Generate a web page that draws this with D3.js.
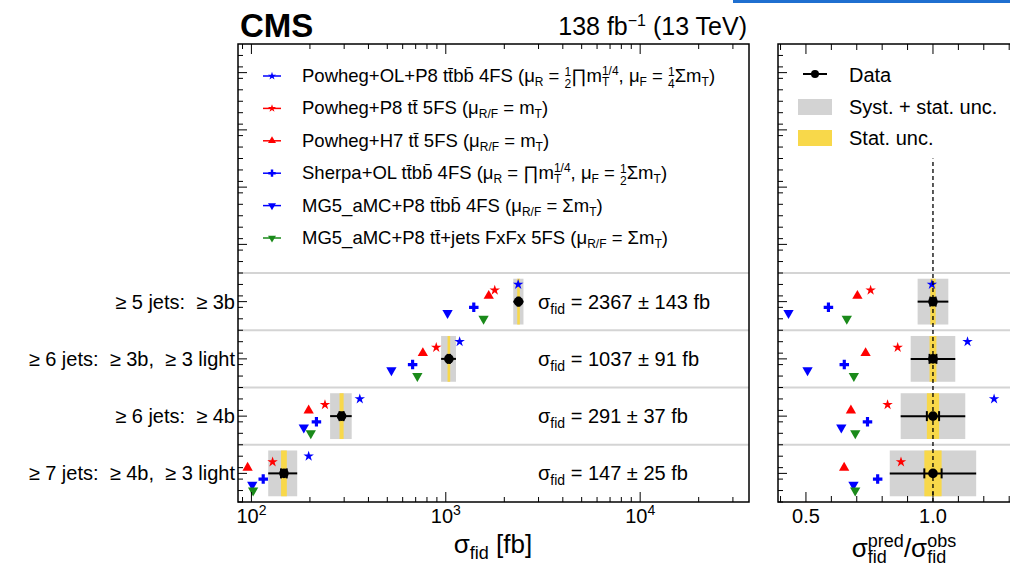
<!DOCTYPE html>
<html>
<head>
<meta charset="utf-8">
<script src="https://cdn.jsdelivr.net/npm/d3@7"></script>
<style>
body { margin: 0; background: #fff; }
text { font-family: "Liberation Sans", Arial, Helvetica, sans-serif; fill: #000; white-space: pre; }
</style>
</head>
<body>
<div id="chart"></div>
<script>
(() => {

// categories, top to bottom
const categories = ["≥ 5 jets:  ≥ 3b", "≥ 6 jets:  ≥ 3b,  ≥ 3 light", "≥ 6 jets:  ≥ 4b", "≥ 7 jets:  ≥ 4b,  ≥ 3 light"];

// measured fiducial cross sections [fb]
const obs = [2367, 1037, 291, 147];
const totUnc = [143, 91, 37, 25];
const statUnc = [25, 14, 7, 5];

// predictions [fb]
const powhegOL = [2357, 1178, 361, 197];
const powhegP8 = [1786, 893, 239, 128.5];
const powhegH7 = [1663, 762, 197, 95.6];
const sherpaOL = [1393, 675, 216, 115];
const mg5ttbb = [1021, 525, 186, 101];
const mg5fxfx = [1564, 714, 202, 102];

// axis ticks
const leftTickExp = [2, 3, 4];
const ratioTickLabels = ["0.5", "1.0"];

// little helpers for the ROOT-ish latex
const sub = (s, fs = 12, sh = -4) => `<tspan font-size="${fs}" baseline-shift="${sh}">${s}</tspan>`;
const frac = (a, b) => `<tspan font-size="12" baseline-shift="6">${a}</tspan><tspan font-size="12" dx="-6.7" baseline-shift="-6">${b}</tspan>`;
const mT14 = `m<tspan font-size="12" baseline-shift="-4">T</tspan><tspan font-size="12" dx="-7.3" baseline-shift="7">1/4</tspan>`;
const tt = "tt\u0304", ttbb = "tt\u0304bb\u0304";

const models = [
  { vals: powhegOL, color: "#0000ff", shape: "star", off: 0.3,
    label: `Powheg+OL+P8 ${ttbb} 4FS (μ${sub("R")} = ${frac(1, 2)}∏${mT14}, μ${sub("F")} = ${frac(1, 4)}Σm${sub("T")})` },
  { vals: powhegP8, color: "#ff0000", shape: "star", off: 0.2,
    label: `Powheg+P8 ${tt} 5FS (μ${sub("R/F")} = m${sub("T")})` },
  { vals: powhegH7, color: "#ff0000", shape: "up", off: 0.1,
    label: `Powheg+H7 ${tt} 5FS (μ${sub("R/F")} = m${sub("T")})` },
  { vals: sherpaOL, color: "#0000ff", shape: "cross", off: -0.1,
    label: `Sherpa+OL ${ttbb} 4FS (μ${sub("R")} = ∏${mT14}, μ${sub("F")} = ${frac(1, 2)}Σm${sub("T")})` },
  { vals: mg5ttbb, color: "#0000ff", shape: "down", off: -0.2,
    label: `MG5_aMC+P8 ${ttbb} 4FS (μ${sub("R/F")} = Σm${sub("T")})` },
  { vals: mg5fxfx, color: "#1a8a1a", shape: "down", off: -0.3,
    label: `MG5_aMC+P8 ${tt}+jets FxFx 5FS (μ${sub("R/F")} = Σm${sub("T")})` }
];

const W = 1010, H = 566;
const svg = d3.select("#chart").append("svg").attr("width", W).attr("height", H);

// stray link underline visible in the screenshot
svg.append("rect").attr("x", 733).attr("y", 0).attr("width", 277).attr("height", 3).attr("fill", "#1f6fd0");

const top = 44, bottom = 502;
const L = { x0: 238, x1: 749 }, R = { x0: 778, x1: 1060 };

const x = d3.scaleLog().domain([85.3, 36300]).range([L.x0, L.x1]);
const xr = d3.scaleLinear().domain([0.39, 1.5]).range([R.x0, R.x1]);
const y = d3.scaleLinear().domain([0, 8]).range([bottom, top]);
const catY = i => 3.5 - i;

const symPath = (shape, k = 1) => {
  const t = { star: [d3.symbolStar, 34], up: [d3.symbolTriangle, 46], down: [d3.symbolTriangle, 46], cross: [d3.symbolCross, 50] }[shape];
  return d3.symbol().type(t[0]).size(t[1] * k)();
};
const rot = shape => shape === "down" ? " rotate(180)" : "";

// separators between categories
[1, 2, 3, 4].forEach(v => {
  [L, R].forEach(p => svg.append("line")
    .attr("x1", p.x0).attr("x2", p.x1).attr("y1", y(v)).attr("y2", y(v))
    .attr("stroke", "#d4d4d4").attr("stroke-width", 2));
});

// uncertainty boxes
function panel(g, sx, cx, lo, hi, sLo, sHi) {
  categories.forEach((c, i) => {
    const yc = catY(i);
    g.append("rect").attr("x", sx(lo(i))).attr("width", sx(hi(i)) - sx(lo(i)))
      .attr("y", y(yc + 0.4)).attr("height", y(yc - 0.4) - y(yc + 0.4)).attr("fill", "#d3d3d3");
    const w = Math.max(2.6, sx(sHi(i)) - sx(sLo(i)));
    g.append("rect").attr("x", sx(cx(i)) - w / 2).attr("width", w)
      .attr("y", y(yc + 0.4)).attr("height", y(yc - 0.4) - y(yc + 0.4)).attr("fill", "#f8d84a");
  });
}
const gl = svg.append("g"), gr = svg.append("g");
panel(gl, x, i => obs[i], i => obs[i] - totUnc[i], i => obs[i] + totUnc[i], i => obs[i] - statUnc[i], i => obs[i] + statUnc[i]);
panel(gr, xr, i => 1, i => 1 - totUnc[i] / obs[i], i => 1 + totUnc[i] / obs[i], i => 1 - statUnc[i] / obs[i], i => 1 + statUnc[i] / obs[i]);

// dashed unity line
svg.append("line").attr("x1", xr(1)).attr("x2", xr(1)).attr("y1", y(0)).attr("y2", y(6))
  .attr("stroke", "#000").attr("stroke-width", 1.3).attr("stroke-dasharray", "4,3");

// data points with error bars
function dataPts(g, sx, cx, lo, hi, sLo, sHi) {
  categories.forEach((c, i) => {
    const yy = y(catY(i));
    g.append("line").attr("x1", sx(lo(i))).attr("x2", sx(hi(i))).attr("y1", yy).attr("y2", yy)
      .attr("stroke", "#000").attr("stroke-width", 2);
    [sLo(i), sHi(i)].forEach(v => g.append("line").attr("x1", sx(v)).attr("x2", sx(v))
      .attr("y1", yy - 5).attr("y2", yy + 5).attr("stroke", "#000").attr("stroke-width", 2));
    g.append("circle").attr("cx", sx(cx(i))).attr("cy", yy).attr("r", 4.8).attr("fill", "#000");
  });
}
dataPts(gl, x, i => obs[i], i => obs[i] - totUnc[i], i => obs[i] + totUnc[i], i => obs[i] - statUnc[i], i => obs[i] + statUnc[i]);
dataPts(gr, xr, i => 1, i => 1 - totUnc[i] / obs[i], i => 1 + totUnc[i] / obs[i], i => 1 - statUnc[i] / obs[i], i => 1 + statUnc[i] / obs[i]);

// predictions
models.forEach(m => {
  m.vals.forEach((v, i) => {
    const yy = y(catY(i) + m.off);
    gl.append("path").attr("d", symPath(m.shape)).attr("fill", m.color)
      .attr("transform", `translate(${x(v)},${yy})${rot(m.shape)}`);
    gr.append("path").attr("d", symPath(m.shape)).attr("fill", m.color)
      .attr("transform", `translate(${xr(v / obs[i])},${yy})${rot(m.shape)}`);
  });
});

// sigma_fid values and category labels
categories.forEach((c, i) => {
  svg.append("text").attr("x", 538).attr("y", y(catY(i)) + 7).attr("font-size", 20)
    .html(`σ${sub("fid", 14, -5)} = ${obs[i]} ± ${totUnc[i]} fb`);
  svg.append("text").attr("x", 235).attr("y", y(catY(i)) + 7).attr("font-size", 20)
    .attr("text-anchor", "end").text(c);
});

// frames
[L, R].forEach(p => svg.append("rect").attr("x", p.x0).attr("y", top)
  .attr("width", p.x1 - p.x0).attr("height", bottom - top)
  .attr("fill", "none").attr("stroke", "#000").attr("stroke-width", 1.5));

// log axis ticks (bottom + top)
x.ticks().forEach(v => {
  const major = Math.abs(Math.log10(v) - Math.round(Math.log10(v))) < 1e-6;
  const len = major ? 10 : 5;
  svg.append("line").attr("x1", x(v)).attr("x2", x(v)).attr("y1", bottom).attr("y2", bottom - len).attr("stroke", "#000");
  svg.append("line").attr("x1", x(v)).attr("x2", x(v)).attr("y1", top).attr("y2", top + len).attr("stroke", "#000");
});
leftTickExp.forEach(e => {
  svg.append("text").attr("x", x(Math.pow(10, e))).attr("y", 523).attr("font-size", 20)
    .attr("text-anchor", "middle")
    .html(`10<tspan font-size="14" baseline-shift="8">${e}</tspan>`);
});

// ratio axis ticks
d3.range(4, 16).map(k => k / 10).forEach(v => {
  const major = Math.abs(v * 2 - Math.round(v * 2)) < 1e-6;
  const len = major ? 10 : 6;
  svg.append("line").attr("x1", xr(v)).attr("x2", xr(v)).attr("y1", bottom).attr("y2", bottom - len).attr("stroke", "#000");
  svg.append("line").attr("x1", xr(v)).attr("x2", xr(v)).attr("y1", top).attr("y2", top + len).attr("stroke", "#000");
});
ratioTickLabels.forEach(t => {
  svg.append("text").attr("x", xr(+t)).attr("y", 523).attr("font-size", 20)
    .attr("text-anchor", "middle").text(t);
});

// y ticks on both panels
d3.range(0, 40).map(k => k * 0.2).forEach(v => {
  [L, R].forEach(p => svg.append("line").attr("x1", p.x0).attr("x2", p.x0 + 5)
    .attr("y1", y(v)).attr("y2", y(v)).attr("stroke", "#000"));
});
[0.5, 1.5, 2.5, 3.5, 4.5, 5.5, 6.5, 7.5].forEach(v => {
  [L, R].forEach(p => svg.append("line").attr("x1", p.x0).attr("x2", p.x0 + 9)
    .attr("y1", y(v)).attr("y2", y(v)).attr("stroke", "#000"));
});

// axis titles
svg.append("text").attr("x", 493).attr("y", 553).attr("font-size", 26).attr("text-anchor", "middle")
  .html(`σ${sub("fid", 18, -6)} [fb]`);
svg.append("text").attr("x", 904).attr("y", 557).attr("font-size", 26).attr("text-anchor", "middle")
  .html(`σ<tspan font-size="18" baseline-shift="-6">fid</tspan><tspan font-size="18" dx="-19" baseline-shift="10">pred</tspan>/σ<tspan font-size="18" baseline-shift="-6">fid</tspan><tspan font-size="18" dx="-19" baseline-shift="10">obs</tspan>`);

// header
svg.append("text").attr("x", 240).attr("y", 37).attr("font-size", 33).attr("font-weight", "bold").text("CMS");
svg.append("text").attr("x", 747).attr("y", 35).attr("font-size", 25).attr("text-anchor", "end")
  .html(`138 fb<tspan font-size="16" baseline-shift="9">−1</tspan> (13 TeV)`);

// model legend
models.forEach((m, k) => {
  const ly = 76 + k * 32.4;
  svg.append("line").attr("x1", 263).attr("x2", 281).attr("y1", ly).attr("y2", ly)
    .attr("stroke", m.color).attr("stroke-width", 1.5);
  svg.append("path").attr("d", symPath(m.shape, 0.6)).attr("fill", m.color)
    .attr("transform", `translate(272,${ly})${rot(m.shape)}`);
  svg.append("text").attr("x", 302).attr("y", ly + 6).attr("font-size", 18.5).html(m.label);
});

// data legend
svg.append("line").attr("x1", 803).attr("x2", 827).attr("y1", 74).attr("y2", 74).attr("stroke", "#000").attr("stroke-width", 2);
svg.append("circle").attr("cx", 815).attr("cy", 74).attr("r", 4).attr("fill", "#000");
svg.append("text").attr("x", 849).attr("y", 82).attr("font-size", 20).text("Data");
svg.append("rect").attr("x", 798).attr("y", 99).attr("width", 34).attr("height", 16).attr("fill", "#d3d3d3");
svg.append("text").attr("x", 849).attr("y", 114).attr("font-size", 20).text("Syst. + stat. unc.");
svg.append("rect").attr("x", 798).attr("y", 130).attr("width", 34).attr("height", 16).attr("fill", "#f8d84a");
svg.append("text").attr("x", 849).attr("y", 145).attr("font-size", 20).text("Stat. unc.");

})();
</script>
</body>
</html>
